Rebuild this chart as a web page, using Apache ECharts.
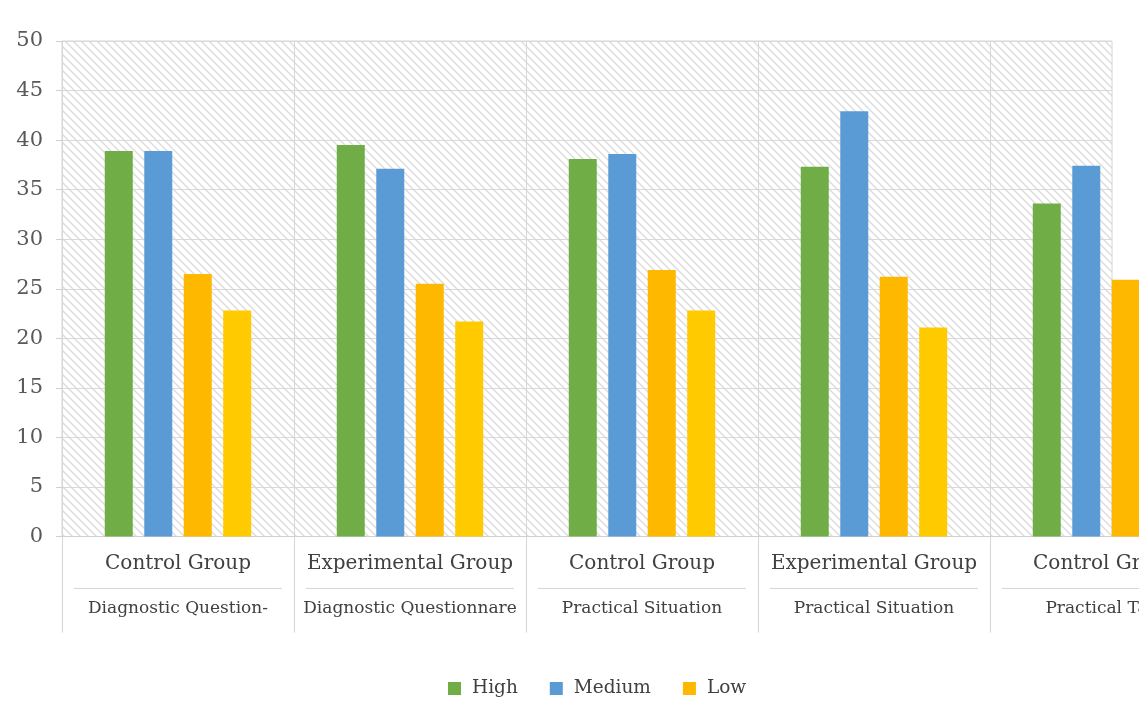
<!DOCTYPE html>
<html>
<head>
<meta charset="utf-8">
<title>Levels by group and task</title>
<script src="https://cdn.jsdelivr.net/npm/echarts@6/dist/echarts.min.js"></script>
<style>
  html, body { margin: 0; padding: 0; background: #ffffff; }
  #chart { width: 1139px; height: 701px; }
</style>
</head>
<body>
<div id="chart"></div>
<script>
// Group labels (first row) and task labels (second row) of the category axis
const groups = ['Control Group', 'Experimental Group', 'Control Group', 'Experimental Group', 'Control Group'];
const tasks = ['Diagnostic Question-', 'Diagnostic Questionnare', 'Practical Situation', 'Practical Situation', 'Practical Task'];

// Series values per group
const high = [38.9, 39.5, 38.1, 37.3, 33.6];
const medium = [38.9, 37.1, 38.6, 42.9, 37.4];
const low = [26.5, 25.5, 26.9, 26.2, 25.9];
const lowSecond = [22.8, 21.7, 22.8, 21.1, 22.4];

// Value axis ticks
const yTicks = [0, 5, 10, 15, 20, 25, 30, 35, 40, 45, 50];

const FONT = 'DejaVu Serif';

// Diagonal hatch tile for the plot background
function hatchTile() {
  const s = 8;
  const c = document.createElement('canvas');
  c.width = s; c.height = s;
  const g = c.getContext('2d');
  g.fillStyle = '#ffffff';
  g.fillRect(0, 0, s, s);
  g.strokeStyle = '#dcdcdc';
  g.lineWidth = 1.4;
  g.beginPath();
  g.moveTo(-1, -1); g.lineTo(s + 1, s + 1);
  g.moveTo(-1, s - 1); g.lineTo(1, s + 1);
  g.moveTo(s - 1, -1); g.lineTo(s + 1, 1);
  g.stroke();
  return c;
}

const chart = echarts.init(document.getElementById('chart'), null, { renderer: 'canvas' });

const barStyle = (color) => ({ color: color });

chart.setOption({
  animation: false,
  backgroundColor: '#ffffff',
  legend: {
    data: ['High', 'Medium', 'Low'],
    left: 443,
    top: 674,
    icon: 'rect',
    itemWidth: 13,
    itemHeight: 13,
    itemGap: 32,
    textStyle: { fontFamily: FONT, fontSize: 18.5, color: '#404040', padding: [0, 0, 0, 6] }
  },
  grid: [
    // hatched plot background with the value gridlines
    { left: 62, top: 41, right: 27, bottom: 164.5, show: true,
      containLabel: false, outerBoundsMode: 'none',
      backgroundColor: { image: hatchTile(), repeat: 'repeat' },
      borderColor: '#d6d6d6', borderWidth: 1 },
    // bars and the two-row category axis; the last band runs past the right edge
    { left: 62, top: 41, width: 1160, bottom: 164.5,
      containLabel: false, outerBoundsMode: 'none' }
  ],
  xAxis: [
    {
      type: 'category', gridIndex: 1, data: groups,
      axisLine: { show: true, lineStyle: { color: '#d0d0d0' } },
      axisTick: { show: true, length: 96, interval: 0, lineStyle: { color: '#d6d6d6' } },
      splitLine: { show: true, interval: 0, lineStyle: { color: '#d6d6d6' } },
      axisLabel: { interval: 0, margin: 17, fontFamily: FONT, fontSize: 20, color: '#404040', hideOverlap: false }
    },
    {
      type: 'category', gridIndex: 1, data: tasks, position: 'bottom', offset: 56,
      axisLine: { show: false }, axisTick: { show: false }, splitLine: { show: false },
      axisLabel: { interval: 0, margin: 8, fontFamily: FONT, fontSize: 17, color: '#404040', hideOverlap: false }
    },
    { type: 'value', gridIndex: 0, min: 0, max: 1, show: false }
  ],
  yAxis: [
    {
      type: 'value', gridIndex: 0, min: yTicks[0], max: yTicks[yTicks.length - 1], interval: yTicks[1] - yTicks[0],
      axisLine: { show: true, lineStyle: { color: '#d6d6d6' } },
      axisTick: { show: true, length: 6, lineStyle: { color: '#d0d0d0' } },
      splitLine: { show: true, lineStyle: { color: '#dadada' } },
      axisLabel: { margin: 19, fontFamily: FONT, fontSize: 21, color: '#595959' }
    },
    {
      type: 'value', gridIndex: 1, min: yTicks[0], max: yTicks[yTicks.length - 1], show: false,
      splitLine: { show: false }
    }
  ],
  series: [
    { name: 'High', type: 'bar', xAxisIndex: 0, yAxisIndex: 1, data: high,
      barWidth: 28, barGap: '41%', itemStyle: barStyle('#70AD47') },
    { name: 'Medium', type: 'bar', xAxisIndex: 0, yAxisIndex: 1, data: medium,
      barWidth: 28, barGap: '41%', itemStyle: barStyle('#5B9BD5') },
    { name: 'Low', type: 'bar', xAxisIndex: 0, yAxisIndex: 1, data: low,
      barWidth: 28, barGap: '41%', itemStyle: barStyle('#FFB800') },
    { name: 'Low (second)', type: 'bar', xAxisIndex: 0, yAxisIndex: 1, data: lowSecond,
      barWidth: 28, barGap: '41%', itemStyle: barStyle('#FFCA00') },
    // short rules separating the two label rows inside each category band
    {
      name: 'rowRule', type: 'custom', xAxisIndex: 0, yAxisIndex: 1, silent: true, clip: false,
      data: groups.map((g, i) => [i, 0]),
      renderItem: function (params, api) {
        const p = api.coord([api.value(0), 0]);
        const w = api.size([1, 0])[0];
        return {
          type: 'line',
          shape: { x1: p[0] - w / 2 + 12, y1: p[1] + 52, x2: p[0] + w / 2 - 12, y2: p[1] + 52 },
          style: { stroke: '#d6d6d6', lineWidth: 1 }
        };
      }
    }
  ]
});
</script>
</body>
</html>
